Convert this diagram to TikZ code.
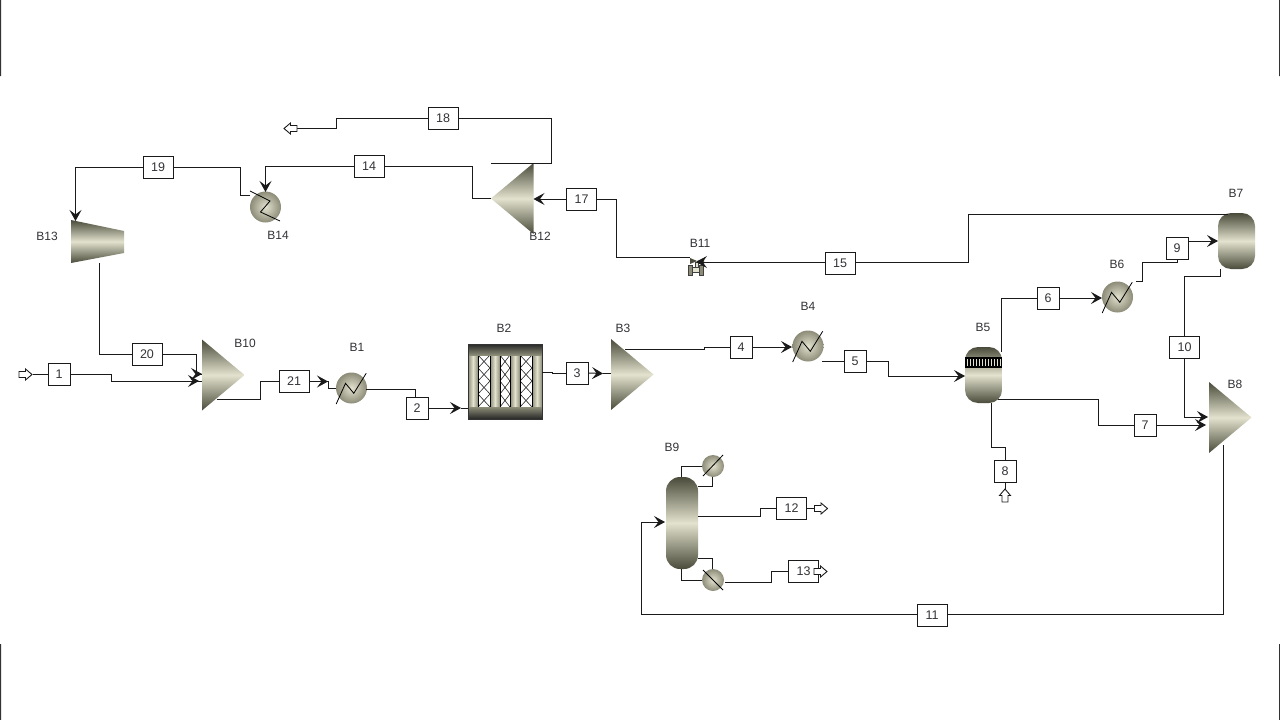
\documentclass[tikz,border=0pt]{standalone}
\usepackage{fontspec}
\setmainfont{Liberation Sans}
\usetikzlibrary{arrows.meta,calc}
\definecolor{eqdark}{HTML}{4B4B3B}
\definecolor{eqlight}{HTML}{E2E2CE}
\definecolor{eqmid}{HTML}{8C8C78}
\definecolor{linecol}{HTML}{1A1A1A}
\definecolor{txt}{HTML}{333338}
\tikzset{
  x=1pt,y=-1pt,
  conn/.style={draw=linecol,line width=1pt,line join=miter},
  tip/.style={conn,-{Stealth[length=11pt,width=12pt,inset=4.5pt]}},
  box/.style={draw=linecol,fill=white,line width=0.9pt,minimum width=22pt,minimum height=22pt,inner sep=0pt,text=txt,font=\fontsize{12.5}{14}\selectfont},
  wbox/.style={box,minimum width=30pt},
  blabel/.style={text=txt,inner sep=0pt,font=\fontsize{12}{14}\selectfont},
  vshade/.style={top color=eqdark,bottom color=eqdark,middle color=eqlight},
  hshade/.style={left color=eqdark,right color=eqdark,middle color=eqlight,shading angle=0},
  ballshade/.style={inner color=eqlight,outer color=eqmid},
  hxzig/.style={draw=black,line width=0.8pt},
  openarrow/.pic={\draw[draw=linecol,fill=white,line width=0.9pt,line join=miter]
    (-6.5,-3) -- (0,-3) -- (0,-5.5) -- (6.5,0) -- (0,5.5) -- (0,3) -- (-6.5,3) -- cycle;},
  triblock/.pic={\shade[vshade] (0,-35.5) -- (42.5,0) -- (0,35.5) -- cycle;},
  hxup/.pic={\shade[ballshade] (0,0) circle (15.5);
    \draw[hxzig] (-15.3,16) -- (-6,-4.7) -- (2.3,5.3) -- (14.7,-14.7);},
  hxdown/.pic={\shade[ballshade] (0,0) circle (15.5);
    \draw[hxzig] (-15.5,-16) -- (4.5,-6) -- (-5,5) -- (14.5,14);},
  vesselshape/.style={hshade,rounded corners=13pt}
}
\begin{document}
\begin{tikzpicture}
\useasboundingbox (0,0) rectangle (1280,720);
\fill[white] (0,0) rectangle (1280,720);
% frame marks
\fill[black!80] (0,0) rectangle (1,76) (1279,0) rectangle (1280,76) (0,644) rectangle (1,720) (1279,644) rectangle (1280,720);

% ---- unit blocks
\pic at (202,375) {triblock};
\pic at (611,374.5) {triblock};
\pic at (1209,417.5) {triblock};
\pic[xscale=-1] at (533.5,198.5) {triblock};
\shade[vshade] (71,220) -- (124,231) -- (124,253) -- (71,263) -- cycle;
\pic at (265.5,207) {hxdown};
\pic at (351.5,388) {hxup};
\pic at (808,346) {hxup};
\pic at (1117.5,297) {hxup};
% B2 reactor
\fill[white] (468,355) rectangle (542,407);
\begin{scope}
  \clip (478,355) rectangle (532,407);
  \foreach \xa/\xb in {478/490,500/510,520/532}{
    \foreach \k in {0,1,2,3}{
      \draw[black!85,line width=0.6pt] (\xa,355+\k*13) -- (\xb,368+\k*13) (\xb,355+\k*13) -- (\xa,368+\k*13);
    }
  }
\end{scope}
\foreach \xa/\xb in {468/478,490/500,510/520,532/542}{
  \shade[left color=eqmid,right color=eqmid,middle color=eqlight] (\xa,355) rectangle (\xb,407);
  \draw[black,line width=0.7pt] (\xa,355) -- (\xa,407) (\xb,355) -- (\xb,407);
}
\shade[top color=black!85,bottom color=eqmid] (468,344) rectangle (542,355);
\shade[top color=eqmid,bottom color=black!85] (468,407) rectangle (542,419);
\draw[black!80,line width=0.7pt] (468,344) rectangle (542,419);
% vessels
\shade[vesselshape] (965,347) rectangle (1002,403);
\fill[black] (965,357) rectangle (1002,368);
\foreach \i in {0,...,11}{\fill[eqlight] (967+\i*3,359) rectangle (968.4+\i*3,366);}
\shade[vesselshape] (1218,213) rectangle (1255,269);
\shade[hshade,rounded corners=14pt] (666,477) rectangle (698,569);
% B9 exchangers
\shade[ballshade] (713,466) circle (11);
\shade[ballshade] (713,580) circle (11);
\draw[hxzig] (703,476) -- (723,455);
\draw[hxzig] (703,570) -- (723,590);
% B11 valve
\fill[eqdark] (690,258) -- (697,261) -- (704,258) -- (704,264) -- (697,261) -- (690,264) -- cycle;
\draw[draw=black!75,fill=eqlight,line width=0.7pt] (695.5,262) rectangle (698.5,269);
\draw[draw=black!75,fill=eqlight,line width=0.7pt] (691,267) rectangle (700,272);
\draw[draw=black!75,fill=eqmid,line width=0.7pt] (688,265) rectangle (692,275);
\draw[draw=black!75,fill=eqmid,line width=0.7pt] (699,265) rectangle (703,275);

% ---- block labels
\node[blabel] (lB13) at (47,236) {B13};
\node[blabel] (lB14) at (278,235) {B14};
\node[blabel] (lB10) at (245,343) {B10};
\node[blabel] (lB1) at (357,347) {B1};
\node[blabel] (lB2) at (504,328) {B2};
\node[blabel] (lB3) at (623,328) {B3};
\node[blabel] (lB4) at (808,306) {B4};
\node[blabel] (lB5) at (983,327) {B5};
\node[blabel] (lB6) at (1117,264) {B6};
\node[blabel] (lB7) at (1236,193) {B7};
\node[blabel] (lB8) at (1235,384) {B8};
\node[blabel] (lB9) at (672,447) {B9};
\node[blabel] (lB11) at (700,243) {B11};
\node[blabel] (lB12) at (540,236) {B12};

% ---- stream boxes
\node[box] (n1) at (59,374) {1};
\node[box] (n2) at (417,408) {2};
\node[box] (n3) at (577,373) {3};
\node[box] (n4) at (741,347) {4};
\node[box] (n5) at (855,361) {5};
\node[box] (n6) at (1048,298) {6};
\node[box] (n7) at (1145,425) {7};
\node[box] (n8) at (1005,471) {8};
\node[box] (n9) at (1177,248) {9};
\node[wbox] (n10) at (1184.5,347) {10};
\node[wbox] (n11) at (932,615) {11};
\node[wbox] (n12) at (791.5,508) {12};
\node[wbox] (n13) at (803.5,571) {13};
\node[wbox] (n14) at (369,166) {14};
\node[wbox] (n15) at (840,263) {15};
\node[wbox] (n17) at (581.5,199) {17};
\node[wbox] (n18) at (443,118) {18};
\node[wbox] (n19) at (158,167) {19};
\node[wbox] (n20) at (147,354) {20};
\node[wbox] (n21) at (294,381.5) {21};

% ---- ports
\coordinate (f1) at (32.5,374);
\coordinate (f18) at (297,128);
\coordinate (f8) at (1005,489);
\coordinate (f12) at (815,508);
\coordinate (f13) at (814,571);

% ---- connectors
\draw[conn] (f1) -- (n1.west);
\draw[conn] (n1.east) -- (111,374) -- (111,381) -- (202,381);
\draw[tip] (197,381) -- (199,381);
\draw[conn] (71,0) ++(28.5,263) coordinate (b13out) -- (99.5,354) -- (n20.west);
\draw[conn] (n20.east) -- (196,354) -- (196,374) -- (202,374);
\draw[tip] (198,374) -- (202,374);
\draw[conn] (217,399) -- (260,399) -- (260,381.5) -- (n21.west);
\draw[tip] (n21.east) -- (328,381.5);
\draw[conn] (327,381.5) -- (328,381.5) -- (328,388) -- (336,388);
\draw[conn] (366,389) -- (415,389) -- (415,397);
\draw[tip] (n2.east) -- (461,408);
\draw[conn] (461,408) -- (468,408);
\draw[conn] (542,372) -- (552,372) -- (552,373) -- (n3.west);
\draw[tip] (n3.east) -- (603,373.5);
\draw[conn] (603,373.5) -- (611,373.5);
\draw[conn] (625,349) -- (704,349) -- (704,347) -- (n4.west);
\draw[tip] (n4.east) -- (792,347);
\draw[conn] (822,361) -- (n5.west);
\draw[conn] (n5.east) -- (888,361) -- (888,376) -- (960,376);
\draw[tip] (960,376) -- (965,376);
\draw[conn] (1001,352) -- (1001,298) -- (n6.west);
\draw[tip] (n6.east) -- (1102,298);
\draw[conn] (1136,281) -- (1142,281) -- (1142,262) -- (1177,262) -- (n9.south);
\draw[tip] (n9.east |- 0,241) -- (1218,241);
\draw[conn] (1228,214) -- (968,214) -- (968,262) -- (n15.east |- 0,262);
\draw[tip] (n15.west |- 0,262) -- (696,262);
\draw[conn] (690,257) -- (616,257) -- (616,199) -- (n17.east);
\draw[tip] (n17.west) -- (533.5,199);
\draw[conn] (491,198.5) -- (472,198.5) -- (472,166) -- (n14.east);
\draw[tip] (n14.west) -- (265.5,166) -- (265.5,192);
\draw[conn] (491,163) -- (551,163) -- (551,118) -- (n18.east);
\draw[conn] (n18.west) -- (336,118) -- (336,128) -- (f18);
\draw[conn] (250,195) -- (240,195) -- (240,167) -- (n19.east);
\draw[tip] (n19.west) -- (75.5,167) -- (75.5,221);
\draw[conn] (1220,269) -- (1220,276) -- (1184.5,276) -- (n10.north);
\draw[tip] (n10.south) -- (1184.5,417) -- (1208,417);
\draw[conn] (998,399) -- (1098,399) -- (1098,425) -- (n7.west);
\draw[tip] (n7.east) -- (1206,425);
\draw[conn] (991,403) -- (991,447) -- (1005,447) -- (n8.north);
\draw[conn] (n8.south) -- (f8);
\draw[conn] (1223,445) -- (1223,614.5) -- (n11.east |- 0,614.5);
\draw[tip] (n11.west |- 0,614.5) -- (641,614.5) -- (641,522) -- (665,522);
\draw[conn] (681,477) -- (681,466) -- (702,466);
\draw[conn] (712,477) -- (712,486) -- (698,486);
\draw[conn] (698,558) -- (712,558) -- (712,569);
\draw[conn] (681,569) -- (681,580) -- (702,580);
\draw[conn] (725,582) -- (771,582) -- (771,571) -- (n13.west);
\draw[conn] (698,516) -- (760,516) -- (760,508) -- (n12.west);
\draw[conn] (n12.east) -- (f12);

% ---- open feed and product arrows
\pic at (25.5,374.5) {openarrow};
\pic at (290.5,128.5) [rotate=180] {openarrow};
\pic at (1005,495.5) [rotate=90] {openarrow};
\pic at (821,508.5) {openarrow};
\pic at (820.5,571.5) {openarrow};
\end{tikzpicture}
\end{document}
